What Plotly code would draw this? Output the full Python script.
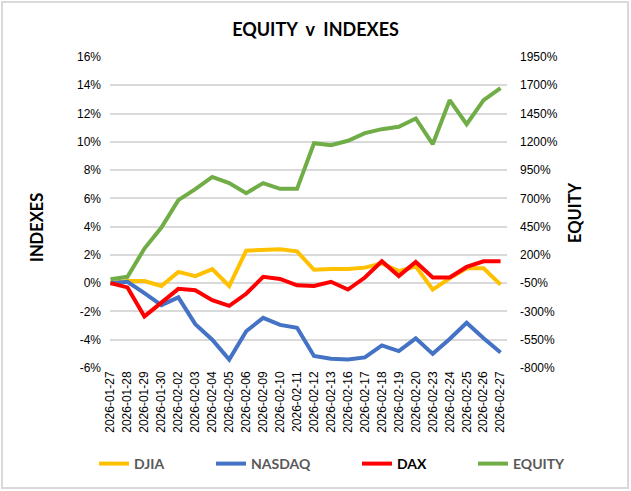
import plotly.graph_objects as go

dates = ["2026-01-27", "2026-01-28", "2026-01-29", "2026-01-30", "2026-02-02", "2026-02-03",
         "2026-02-04", "2026-02-05", "2026-02-06", "2026-02-09", "2026-02-10", "2026-02-11",
         "2026-02-12", "2026-02-13", "2026-02-16", "2026-02-17", "2026-02-18", "2026-02-19",
         "2026-02-20", "2026-02-23", "2026-02-24", "2026-02-25", "2026-02-26", "2026-02-27"]

djia = [0.0, 0.15, 0.15, -0.2, 0.8, 0.5, 1.0, -0.2, 2.3, 2.35, 2.4, 2.25,
        0.95, 1.0, 1.0, 1.1, 1.4, 0.85, 1.2, -0.45, 0.35, 1.05, 1.05, -0.1]
nasdaq = [0.0, 0.1, -0.7, -1.55, -1.0, -2.9, -4.0, -5.4, -3.4, -2.45, -2.95, -3.15,
          -5.15, -5.35, -5.4, -5.25, -4.4, -4.8, -3.9, -5.0, -3.95, -2.8, -3.9, -4.9]
dax = [0.0, -0.3, -2.35, -1.4, -0.4, -0.5, -1.2, -1.6, -0.75, 0.45, 0.3, -0.15,
       -0.2, 0.1, -0.45, 0.4, 1.55, 0.5, 1.5, 0.4, 0.4, 1.15, 1.55, 1.55]
equity = [-15, 6, 256, 442, 684, 781, 890, 835, 746, 835, 784, 784,
          1188, 1170, 1209, 1277, 1312, 1333, 1406, 1179, 1568, 1356, 1568, 1675]

left_ticks = [-6, -4, -2, 0, 2, 4, 6, 8, 10, 12, 14, 16]
right_ticks = [-800, -550, -300, -50, 200, 450, 700, 950, 1200, 1450, 1700, 1950]

names = ["DJIA", "NASDAQ", "DAX", "EQUITY"]
colors = ["#FFC000", "#4472C4", "#FF0000", "#70AD47"]
legend_ids = ["legend", "legend2", "legend3", "legend4"]
legend_text_x = [132, 249, 395, 511]

x_idx = list(range(len(dates)))

fig = go.Figure()
series = [djia, nasdaq, dax, equity]
for name, vals, col, lg in zip(names, series, colors, legend_ids):
    fig.add_trace(go.Scatter(x=x_idx, y=vals, mode="lines", name=f"<b>{name}</b>", legend=lg,
                             line=dict(color=col, width=4),
                             yaxis="y2" if name == "EQUITY" else "y"))

L, R, T, B = 110, 124, 57, 123
W, H = 631, 491
pw, ph = W - L - R, H - T - B

def px_x(p):
    return (p - L) / pw

def px_y(p):
    return (H - B - p) / ph

tick_font = dict(family="Liberation Sans", size=12, color="#000000")

legends = {}
for name, lg, tx in zip(names, legend_ids, legend_text_x):
    legends[lg] = dict(orientation="h", x=(tx - 38) / W, xanchor="left", xref="container",
                       y=(H - 464) / H, yanchor="middle", yref="container",
                       font=dict(family="Lato", size=14,
                                 color="#000000" if name == "DAX" else "#595959"),
                       bgcolor="rgba(0,0,0,0)")

fig.update_layout(
    width=W, height=H,
    margin=dict(l=L, r=R, t=T, b=B, autoexpand=False),
    paper_bgcolor="white", plot_bgcolor="white",
    font=dict(family="Liberation Sans", size=12, color="#000000"),
    title=dict(text="<b>EQUITY  v  INDEXES</b>", x=0.5, xanchor="center", y=1 - 30 / H, yanchor="middle",
               font=dict(family="Lato", size=18, color="#000000")),
    xaxis=dict(tickmode="array", tickvals=x_idx, ticktext=dates, tickangle=-90,
               range=[-0.03, 23.38], showgrid=False, zeroline=False, showline=False,
               ticks="", tickfont=tick_font, automargin=False),
    yaxis=dict(range=[-6, 16], tickmode="array", tickvals=left_ticks,
               ticktext=[f"{v}%" for v in left_ticks], showgrid=True, gridcolor="#D9D9D9",
               gridwidth=1.5, zeroline=False, showline=False, ticks="", ticklabelstandoff=8,
               tickfont=tick_font, automargin=False),
    yaxis2=dict(range=[-800, 1950], overlaying="y", side="right", tickmode="array",
                tickvals=right_ticks, ticktext=[f"{v}%" for v in right_ticks],
                showgrid=False, zeroline=False, showline=False, ticks="", ticklabelstandoff=12,
                tickfont=tick_font, automargin=False),
    showlegend=True,
    **legends,
)

axis_title_font = dict(family="Lato", size=16.5, color="#000000")
fig.add_annotation(text="<b>INDEXES</b>", xref="paper", yref="paper", x=px_x(37), y=px_y(228),
                   xanchor="center", yanchor="middle", textangle=-90, showarrow=False,
                   font=axis_title_font)
fig.add_annotation(text="<b>EQUITY</b>", xref="paper", yref="paper", x=px_x(575), y=px_y(213),
                   xanchor="center", yanchor="middle", textangle=-90, showarrow=False,
                   font=axis_title_font)

fig.add_shape(type="rect", xref="paper", yref="paper",
              x0=px_x(2), x1=px_x(628), y0=px_y(488), y1=px_y(2),
              line=dict(color="#D9D9D9", width=2), fillcolor="rgba(0,0,0,0)", layer="below")

fig.write_html("out.html", config={"displayModeBar": False},
               post_script="document.body.style.margin='0';")
